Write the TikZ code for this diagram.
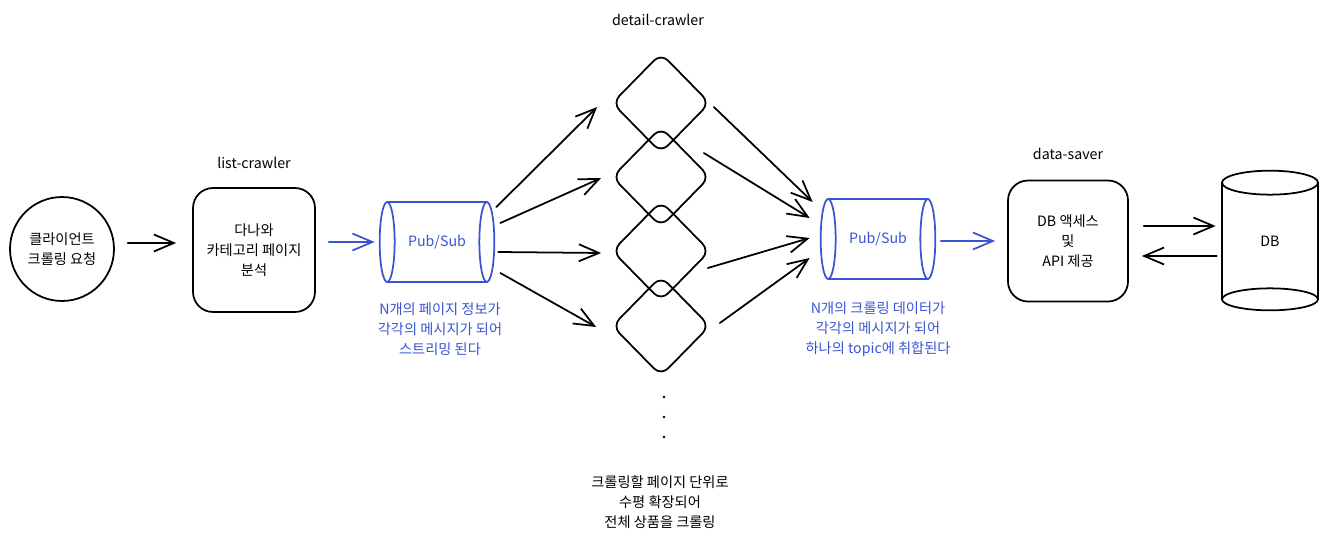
\documentclass[tikz,border=0pt]{standalone}
\usepackage{fontspec}
\setmainfont{Noto Sans CJK KR}
\usetikzlibrary{arrows.meta}
\usetikzlibrary{calc}
\usetikzlibrary{shapes.geometric}

\definecolor{psblue}{HTML}{3A55D2}

\tikzset{
    sketch/.style={line width=1pt},
    txt/.style={align=center, font=\fontsize{8.1}{11.4}\selectfont},
    arr/.style={sketch, -{Straight Barb[length=4mm, width=3.4mm]}},
    box/.style={sketch, draw, rounded corners=0.4cm, minimum width=2.44cm, minimum height=2.48cm, txt},
    crawler/.style={sketch, draw, diamond, aspect=1, minimum width=1.96cm, minimum height=2cm, inner sep=0pt, rounded corners=0.2cm},
    pubsub/.style={txt, text=psblue, minimum width=1.98cm, minimum height=1.6cm, inner sep=0pt},
    tube/.style={sketch, draw=psblue}
}

\begin{document}
\begin{tikzpicture}[line cap=round, x=0.02cm, y=-0.02cm]
    \useasboundingbox (0,0) rectangle (1332,544);

    \node[sketch, draw, circle, minimum size=2.08cm, inner sep=0pt, txt] (client) at (62,249) {클라이언트\\크롤링 요청};
    \node[txt] (listlbl) at (254,163) {list-crawler};
    \node[box] (list) at (254,250) {다나와\\카테고리 페이지\\분석};
    \draw[arr] ($(client.east)+(13,-6)$) -- ($(list.west)+(-16,-7)$);

    % first topic
    \node[pubsub] (ps1) at (437,242) {Pub/Sub};
    \draw[tube] (ps1.north west) -- (ps1.north east) (ps1.south west) -- (ps1.south east);
    \draw[tube] (ps1.west) ellipse (0.15cm and 0.8cm) (ps1.east) ellipse (0.15cm and 0.8cm);
    \draw[arr, psblue] ($(list.east)+(13,-8)$) -- ($(ps1.west)+(-12.5,0)$);
    \node[txt, text=psblue] (ps1note) at (440,329) {N개의 페이지 정보가\\각각의 메시지가 되어\\스트리밍 된다};

    % detail crawlers
    \node[txt] (detaillbl) at (658,20) {detail-crawler};
    \foreach \i/\y in {1/103, 2/177, 3/251, 4/326} {
        \node[crawler] (d\i) at (661,\y) {};
    }
    \foreach \y in {397, 417, 437} {
        \fill (664,\y) circle (0.028cm);
    }
    \node[txt] (scalenote) at (660,502) {크롤링할 페이지 단위로\\수평 확장되어\\전체 상품을 크롤링};

    % second topic
    \node[pubsub] (ps2) at (878,239) {Pub/Sub};
    \draw[tube] (ps2.north west) -- (ps2.north east) (ps2.south west) -- (ps2.south east);
    \draw[tube] (ps2.west) ellipse (0.15cm and 0.8cm) (ps2.east) ellipse (0.15cm and 0.8cm);
    \node[txt, text=psblue] (ps2note) at (878,329) {N개의 크롤링 데이터가\\각각의 메시지가 되어\\하나의 topic에 취합된다};

    \foreach \i/\sx/\sy/\ex/\ey in {1/9.5/-35/-14/4, 2/13.5/-19/-10/1, 3/11.5/10/-10/2, 4/13.5/31/-15/1} {
        \draw[arr] ($(ps1.east)+(\sx,\sy)$) -- ($(d\i.west)+(\ex,\ey)$);
    }
    \foreach \i/\sx/\sy/\ex/\ey in {1/3/4/-15.5/-37, 2/-7/-24/-18.5/-21, 3/-3/17/-18.5/-1, 4/9/-3/-18.5/19} {
        \draw[arr] ($(d\i.east)+(\sx,\sy)$) -- ($(ps2.west)+(\ex,\ey)$);
    }

    % saver and db
    \node[txt] (saverlbl) at (1068,154) {data-saver};
    \node[box, minimum width=2.4cm, minimum height=2.42cm] (saver) at (1068,241) {DB 액세스\\및\\API 제공};
    \draw[arr, psblue] ($(ps2.east)+(13,2)$) -- ($(saver.west)+(-12,0)$);

    \node[txt, minimum width=1.92cm, minimum height=2.32cm, inner sep=0pt] (db) at (1270,241) {DB};
    \draw[sketch] (db.north) ellipse (0.96cm and 0.24cm) (db.south) ellipse (0.96cm and 0.22cm);
    \draw[sketch] (db.north west) -- (db.south west) (db.north east) -- (db.south east);
    \draw[arr] ($(saver.east)+(15,-15)$) -- ($(db.west)+(-6,-15)$);
    \draw[arr] ($(db.west)+(-5,15)$) -- ($(saver.east)+(13,15)$);
\end{tikzpicture}
\end{document}
